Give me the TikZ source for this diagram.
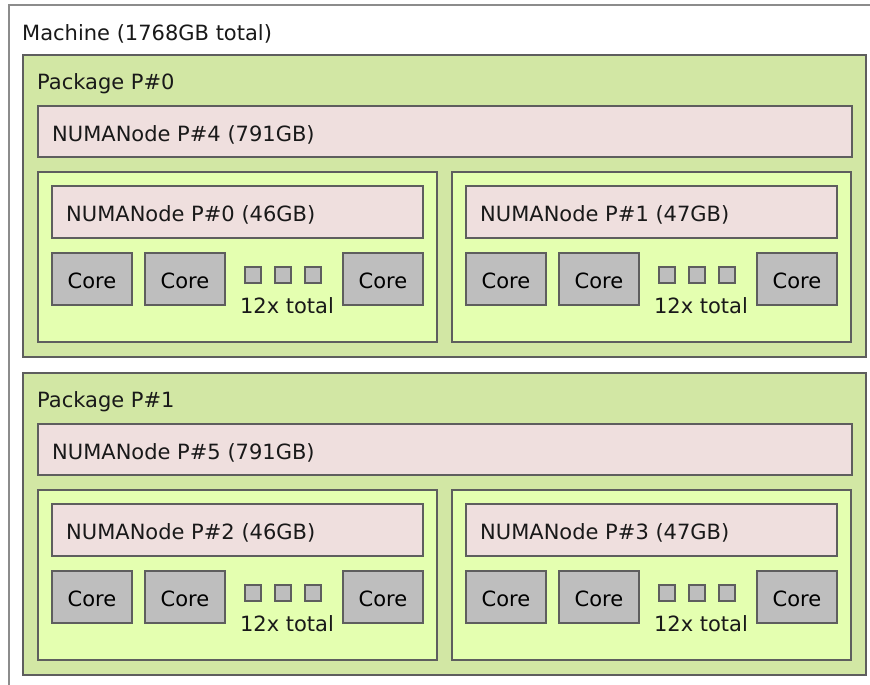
\documentclass[tikz,border=0pt]{standalone}
\usepackage{fontspec}
\setmainfont{DejaVu Sans}
\usetikzlibrary{positioning}
\definecolor{pkgfill}{HTML}{D2E7A4}
\definecolor{groupfill}{HTML}{E4FFB0}
\definecolor{numafill}{HTML}{EFDFDE}
\definecolor{corefill}{HTML}{BEBEBE}
\definecolor{edge}{HTML}{5E5E5E}
\newcommand{\labelfont}{\fontsize{21bp}{25bp}\selectfont}
\tikzset{
    any-box/.style = {draw=edge, line width=2bp, rectangle, inner sep=0pt, outer sep=0pt},
    machine-box/.style = {any-box, draw=black!45, line width=1.5bp, fill=white, anchor=north west, minimum width=900bp, minimum height=720bp},
    pkg-box/.style = {any-box, fill=pkgfill, minimum width=843bp, minimum height=302bp},
    group-box/.style = {any-box, fill=groupfill, minimum width=399bp, minimum height=170bp},
    numa-box/.style = {any-box, fill=numafill, minimum height=52bp},
    core-box/.style = {any-box, fill=corefill, minimum width=80bp, minimum height=52bp, font=\labelfont, text height=19bp, text depth=0pt},
    pu-dot/.style = {any-box, fill=corefill, line width=1.6bp, minimum size=16bp},
    box-label/.style = {inner sep=0pt, font=\labelfont, text=black!90},
}
\begin{document}
\begin{tikzpicture}[x=1bp, y=-1bp]
\useasboundingbox (0,0) rectangle (870,685);
\clip (0,0) rectangle (870,685);
\node[machine-box] (machine) at (9,5) {};
\node[box-label, anchor=base west] (machine-title) at (22,41) {Machine (1768GB total)};
\node[pkg-box, anchor=north west] (pkg0) at (23,55) {};
\node[pkg-box, below=16bp of pkg0] (pkg1) {};
\foreach \p in {0,1}{
  \pgfmathtruncatemacro\bign{4+\p}
  \pgfmathtruncatemacro\na{2*\p}
  \pgfmathtruncatemacro\nb{2*\p+1}
  \node[box-label, anchor=base west] (pkg\p-title) at ([xshift=14bp, yshift=-34.5bp]pkg\p.north west) {Package P\#\p};
  \node[numa-box, minimum width=814bp, minimum height=51bp, anchor=north west] (numa\bign) at ([xshift=15bp, yshift=-51bp]pkg\p.north west) {};
  \node[box-label, anchor=base west] (numa\bign-title) at ([xshift=14bp, yshift=-9.5bp]numa\bign.west) {NUMANode P\#\bign\ (791GB)};
  \node[group-box, anchor=north west] (grp\na) at ([xshift=15bp, yshift=-117bp]pkg\p.north west) {};
  \node[group-box, right=15bp of grp\na] (grp\nb) {};
  \foreach \s/\mem in {0/46, 1/47}{
    \pgfmathtruncatemacro\n{2*\p+\s}
    \node[numa-box, minimum width=371bp, anchor=north west] (numa\n) at ([xshift=14bp, yshift=-14bp]grp\n.north west) {};
    \node[box-label, anchor=base west] (numa\n-title) at ([xshift=14bp, yshift=-9.5bp]numa\n.west) {NUMANode P\#\n\ (\mem GB)};
    \node[core-box, below right=15bp and 0bp of numa\n.south west] (core\n-a) {Core};
    \node[core-box, right=13bp of core\n-a] (core\n-b) {Core};
    \node[pu-dot, right=20bp of core\n-b, yshift=4bp] (dot\n-a) {};
    \node[pu-dot, right=14bp of dot\n-a] (dot\n-b) {};
    \node[pu-dot, right=14bp of dot\n-b] (dot\n-c) {};
    \node[box-label, below=14bp of dot\n-b, xshift=4bp] (total\n) {12x total};
    \node[core-box, right=22bp of dot\n-c, yshift=-4bp] (core\n-c) {Core};
  }
}
\end{tikzpicture}
\end{document}
